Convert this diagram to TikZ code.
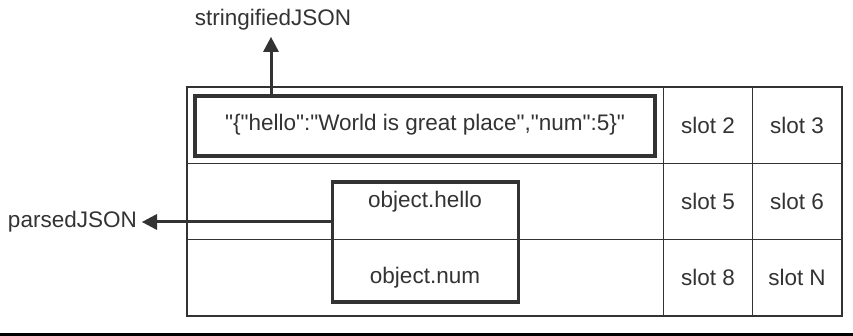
\documentclass[tikz,border=0pt]{standalone}
\usepackage{fontspec}
\setmainfont{Liberation Sans}[Ligatures=TeXOff]
\usetikzlibrary{arrows.meta}
\definecolor{ink}{HTML}{333333}
\begin{document}
\begin{tikzpicture}[x=1pt,y=-1pt,
  txt/.style={font=\fontsize{22.5}{26}\selectfont, text=ink, inner sep=0pt},
  thin/.style={draw=ink, line width=1.5pt},
  thick/.style={draw=ink, line width=3.5pt},
  arr/.style={draw=ink, line width=3pt}]
\useasboundingbox (0,0) rectangle (853,336);
% table
\draw[thin] (187,87) rectangle (842,316);
\draw[thin] (187,163.5) -- (842,163.5);
\draw[thin] (187,239.5) -- (842,239.5);
\draw[thin] (663.5,87) -- (663.5,316);
\draw[thin] (752.5,87) -- (752.5,316);
% slots
\node[txt] (s2) at (708,125) {slot 2};
\node[txt] (s3) at (797,125) {slot 3};
\node[txt] (s5) at (708,201) {slot 5};
\node[txt] (s6) at (797,201) {slot 6};
\node[txt] (s8) at (708,277) {slot 8};
\node[txt] (sN) at (797,277) {slot N};
% stringified box
\node[thick, minimum width=460pt, minimum height=60pt, inner sep=0pt] (str) at (425,126) {};
\node[txt] (strtxt) at (425,125) {"\{"hello":"World is great place","num":5\}"};
% object box
\node[thick, minimum width=186pt, minimum height=120pt, inner sep=0pt] (obj) at (425.5,242) {};
\draw[thin] (obj.west |- 0,239.5) -- (obj.east |- 0,239.5);
\node[txt] (oh) at (425,202) {object.hello};
\node[txt] (on) at (425,278) {object.num};
% labels
\node[txt] (sj) at (273,20) {stringifiedJSON};
\node[txt, anchor=east] (pj) at (137,222) {parsedJSON};
\coordinate (strtop) at (271,96);
\coordinate (strtip) at (271,37);
\coordinate (objleft) at (333,222);
\coordinate (objtip) at (142,222);
\draw[arr] (strtop) -- (271,50);
\fill[ink] (strtip) -- ++(-8,15) -- ++(16,0) -- cycle;
\draw[arr] (objleft) -- (155,222);
\fill[ink] (objtip) -- ++(15,-8) -- ++(0,16) -- cycle;
% bottom bar
\fill[black] (0,333) rectangle (853,336);
\end{tikzpicture}
\end{document}
